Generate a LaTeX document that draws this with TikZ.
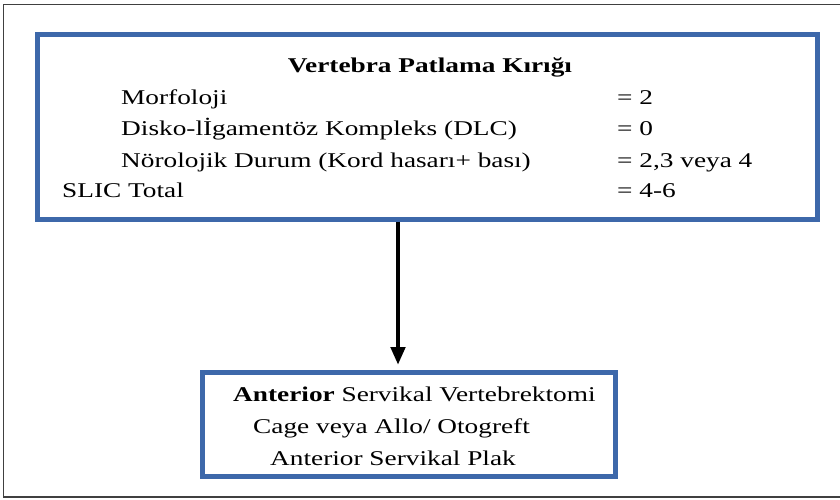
\documentclass[tikz,border=0pt]{standalone}
\usepackage{fontspec}
\setmainfont[FakeStretch=1.3]{Liberation Serif}
\usetikzlibrary{arrows.meta}
\definecolor{boxblue}{RGB}{61,104,170}
\definecolor{framegray}{RGB}{64,64,64}
\tikzset{
  bluebox/.style={draw=boxblue, line width=5pt, rectangle, inner sep=0pt, fill=white},
  txt/.style={anchor=base west, inner sep=0pt, font=\fontsize{21}{25}\selectfont},
  ttl/.style={anchor=base, inner sep=0pt, font=\fontsize{21}{25}\selectfont\bfseries},
  flowarrow/.style={line width=4.5pt, -{Triangle[width=14pt,length=18pt]}}
}
\begin{document}
\begin{tikzpicture}[x=1pt,y=-1pt]
\useasboundingbox (0,0) rectangle (840,499);
% outer frame
\draw[framegray, line width=1.5pt] (841,4.5) -- (3.5,4.5) -- (3.5,497) -- (841,497);
% boxes
\node[bluebox, minimum width=780pt, minimum height=185pt] (top) at (427.5,126.5) {};
\node[bluebox, minimum width=413pt, minimum height=104pt] (bot) at (409,424.5) {};
% top box texts
\node[ttl] (title) at (430,72) {Vertebra Patlama Kırığı};
\node[txt] (m1) at (121,104) {Morfoloji};
\node[txt] (m2) at (121,135) {Disko-lİgamentöz Kompleks (DLC)};
\node[txt] (m3) at (121,167) {Nörolojik Durum (Kord hasarı+ bası)};
\node[txt] (m4) at (62,197) {SLIC Total};
\node[txt] (v1) at (617,104) {= 2};
\node[txt] (v2) at (617,135) {= 0};
\node[txt] (v3) at (617,167) {= 2,3 veya 4};
\node[txt] (v4) at (617,197) {= 4-6};
% bottom box texts
\node[txt] (b1) at (233,401) {\textbf{Anterior} Servikal Vertebrektomi};
\node[txt] (b2) at (253,433) {Cage veya Allo/ Otogreft};
\node[txt] (b3) at (270,465) {Anterior Servikal Plak};
% arrow
\coordinate (ax) at (398,0);
\draw[flowarrow, shorten >=5pt] (top.south -| ax) -- (bot.north -| ax);
\end{tikzpicture}
\end{document}
